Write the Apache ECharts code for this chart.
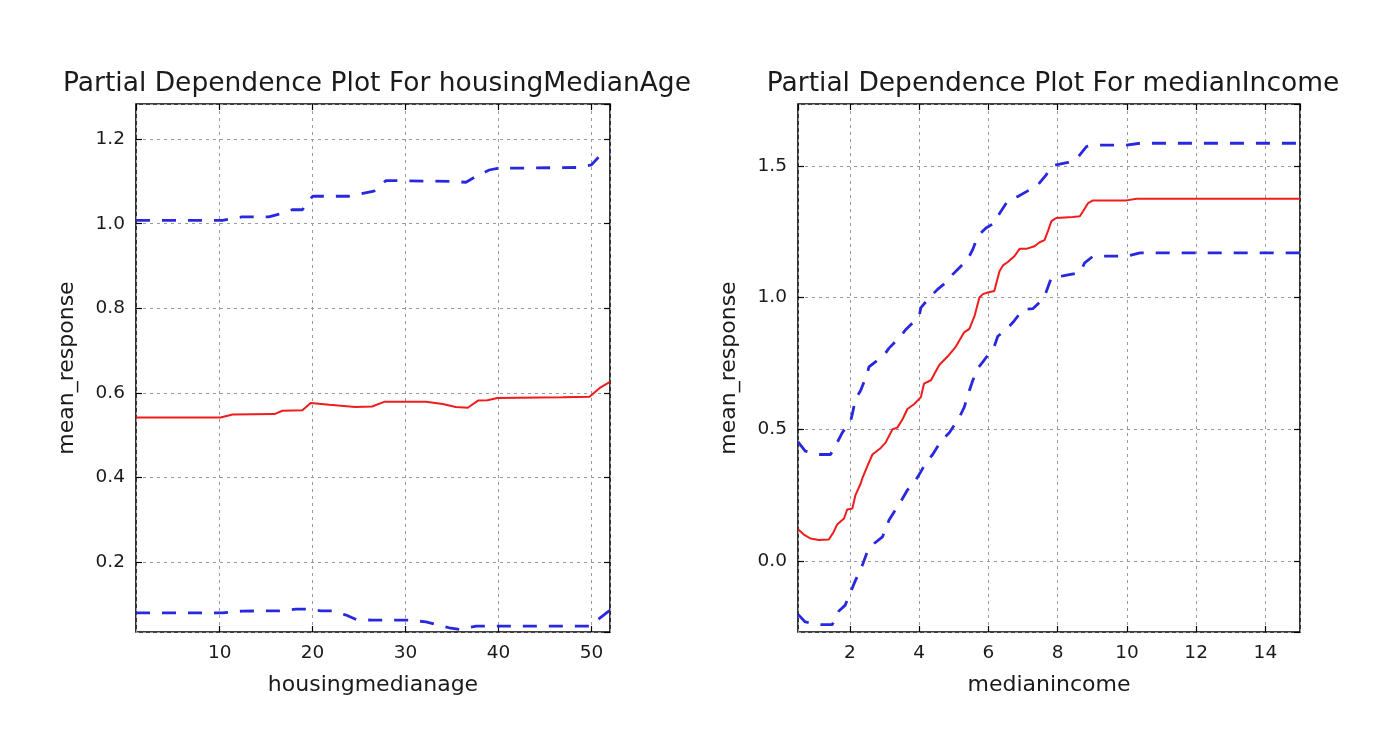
<!DOCTYPE html>
<html>
<head>
<meta charset="utf-8">
<script src="https://cdn.jsdelivr.net/npm/echarts@6/dist/echarts.min.js"></script>
<style>
html,body{margin:0;padding:0;background:#fff;}
#chart{width:1400px;height:746px;}
</style>
</head>
<body>
<div id="chart"></div>
<script>
// ---- Data: housingMedianAge ----
const ageMeanX = [1, 10.1, 11.4, 15.9, 16.75, 18.9, 19.8, 21.8, 24.6, 26.4, 27.7, 32.2, 34, 35.4, 36.7, 37.8, 38.8, 39.9, 46.9, 49.8, 50.9, 52];
const ageMeanY = [0.542, 0.542, 0.549, 0.550, 0.558, 0.559, 0.576, 0.572, 0.567, 0.568, 0.579, 0.579, 0.574, 0.567, 0.565, 0.582, 0.583, 0.588, 0.590, 0.591, 0.612, 0.626];
const ageUpX = [1, 10.3, 12.4, 15.3, 16.2, 17.8, 18.9, 20, 23.9, 26.6, 27.9, 34.9, 36.5, 37.6, 39, 39.9, 48.7, 50, 51, 52];
const ageUpY = [1.008, 1.008, 1.016, 1.016, 1.0215, 1.033, 1.033, 1.065, 1.065, 1.077, 1.102, 1.1, 1.098, 1.112, 1.127, 1.131, 1.133, 1.139, 1.163, 1.168];
const ageLowX = [1, 10.3, 12.4, 16.4, 18.2, 19.4, 20.9, 22.1, 23.6, 24.7, 26.4, 30.4, 32.2, 33.3, 34.7, 35.8, 37.6, 49.8, 50, 51.8, 52];
const ageLowY = [0.080, 0.080, 0.0845, 0.085, 0.089, 0.089, 0.085, 0.085, 0.075, 0.0645, 0.063, 0.063, 0.059, 0.053, 0.045, 0.041, 0.049, 0.049, 0.052, 0.083, 0.086];

// ---- Data: medianIncome ----
const incMeanX = [0.5, 0.67, 0.86, 1.1, 1.39, 1.53, 1.63, 1.83, 1.92, 2.07, 2.16, 2.31, 2.36, 2.5, 2.65, 2.89, 3.03, 3.23, 3.37, 3.52, 3.66, 3.86, 4.05, 4.14, 4.34, 4.58, 4.82, 5.06, 5.3, 5.45, 5.6, 5.74, 5.84, 5.98, 6.17, 6.32, 6.42, 6.56, 6.75, 6.9, 7.09, 7.33, 7.48, 7.62, 7.72, 7.82, 7.96, 8.44, 8.64, 8.73, 8.88, 9.02, 9.99, 10.28, 15];
const incMeanY = [0.12, 0.10, 0.085, 0.079, 0.081, 0.11, 0.138, 0.161, 0.195, 0.199, 0.25, 0.294, 0.314, 0.359, 0.404, 0.429, 0.449, 0.5, 0.506, 0.538, 0.577, 0.596, 0.622, 0.673, 0.686, 0.744, 0.776, 0.814, 0.868, 0.881, 0.93, 1.0, 1.013, 1.019, 1.025, 1.10, 1.122, 1.135, 1.157, 1.185, 1.185, 1.195, 1.21, 1.218, 1.252, 1.29, 1.302, 1.306, 1.309, 1.327, 1.359, 1.369, 1.369, 1.375, 1.375];
const incUpX = [0.5, 0.71, 1.1, 1.44, 1.63, 1.78, 2.02, 2.07, 2.16, 2.31, 2.5, 2.55, 2.99, 3.13, 3.47, 3.61, 4.0, 4.05, 4.34, 4.53, 4.77, 4.97, 5.16, 5.4, 5.55, 5.69, 5.93, 6.17, 6.27, 6.56, 6.85, 7.19, 7.43, 7.67, 7.82, 7.96, 8.3, 8.54, 8.83, 9.02, 9.99, 10.38, 15];
const incUpY = [0.452, 0.417, 0.404, 0.404, 0.449, 0.487, 0.532, 0.558, 0.615, 0.647, 0.712, 0.737, 0.782, 0.808, 0.853, 0.878, 0.929, 0.962, 1.006, 1.031, 1.057, 1.088, 1.113, 1.145, 1.183, 1.233, 1.264, 1.283, 1.309, 1.368, 1.384, 1.409, 1.428, 1.466, 1.5, 1.504, 1.513, 1.525, 1.573, 1.579, 1.579, 1.586, 1.586];
const incLowX = [0.5, 0.71, 1.15, 1.49, 1.68, 1.86, 2.02, 2.16, 2.36, 2.5, 2.7, 2.94, 3.13, 3.28, 3.52, 3.66, 3.9, 4.05, 4.19, 4.39, 4.63, 4.87, 5.16, 5.3, 5.45, 5.55, 5.69, 5.84, 6.17, 6.27, 6.51, 6.71, 7.0, 7.29, 7.57, 7.67, 7.82, 8.15, 8.64, 8.78, 9.02, 9.99, 10.38, 15];
const incLowY = [-0.203, -0.232, -0.242, -0.242, -0.19, -0.169, -0.118, -0.074, -0.016, 0.034, 0.066, 0.091, 0.155, 0.187, 0.237, 0.269, 0.307, 0.339, 0.372, 0.404, 0.455, 0.487, 0.545, 0.583, 0.647, 0.686, 0.731, 0.756, 0.814, 0.853, 0.878, 0.906, 0.955, 0.958, 0.994, 1.022, 1.076, 1.082, 1.094, 1.132, 1.157, 1.157, 1.17, 1.17];

// ---- Axis settings ----
const titles = ['Partial Dependence Plot For housingMedianAge', 'Partial Dependence Plot For medianIncome'];
const xNames = ['housingmedianage', 'medianincome'];
const yName = 'mean_response';
const xRange = [[1, 52], [0.5, 15]];
const xStep = [10, 2];
const yRange = [[0.035, 1.283], [-0.27, 1.735]];
const yStep = [0.2, 0.5];

const FONT = 'DejaVu Sans';
const TXT = '#1a1a1a';
const zip = (xs, ys) => xs.map((x, i) => [x, ys[i]]);

const grids = [
  {left: 136, top: 104, width: 474, height: 528},
  {left: 798, top: 104, width: 502, height: 528}
].map(g => Object.assign(g, {show: true, borderColor: '#000', borderWidth: 1.6, backgroundColor: 'transparent', containLabel: false}));

const xAxes = [], yAxes = [];
for (let i = 0; i < 2; i++) {
  const common = {
    type: 'value',
    gridIndex: i,
    axisLine: {show: false, onZero: false},
    axisTick: {show: true, inside: true, length: 6, lineStyle: {color: '#000', width: 1.2}},
  };
  xAxes.push(Object.assign({}, common, {
    min: xRange[i][0], max: xRange[i][1],
    minInterval: xStep[i], maxInterval: xStep[i], splitNumber: 5,
    position: 'bottom',
    name: xNames[i], nameLocation: 'middle', nameGap: 42,
    nameTextStyle: {fontFamily: FONT, fontSize: 22, color: TXT},
    axisLabel: {show: true, showMinLabel: false, showMaxLabel: false, margin: 12,
      fontFamily: FONT, fontSize: 18.5, color: TXT, formatter: v => String(Math.round(v))},
    splitLine: {show: true, lineStyle: {color: '#9a9a9a', width: 1, type: [3, 4]}}
  }));
  xAxes.push(Object.assign({}, common, {
    min: xRange[i][0], max: xRange[i][1],
    minInterval: xStep[i], maxInterval: xStep[i], splitNumber: 5,
    position: 'top',
    axisLabel: {show: false},
    splitLine: {show: false}
  }));
  yAxes.push(Object.assign({}, common, {
    min: yRange[i][0], max: yRange[i][1],
    minInterval: yStep[i], maxInterval: yStep[i], splitNumber: 5,
    position: 'left',
    name: yName, nameLocation: 'middle', nameGap: 58, nameRotate: 90,
    nameTextStyle: {fontFamily: FONT, fontSize: 22, color: TXT},
    axisLabel: {show: true, showMinLabel: false, showMaxLabel: false, margin: 11,
      fontFamily: FONT, fontSize: 18.5, color: TXT, formatter: v => (Math.round(v * 10) / 10).toFixed(1)},
    splitLine: {show: true, lineStyle: {color: '#9a9a9a', width: 1, type: [3, 4]}}
  }));
  yAxes.push(Object.assign({}, common, {
    min: yRange[i][0], max: yRange[i][1],
    minInterval: yStep[i], maxInterval: yStep[i], splitNumber: 5,
    position: 'right',
    axisLabel: {show: false},
    splitLine: {show: false}
  }));
}

const red = {color: '#f01c1c', width: 2, type: 'solid'};
const blue = {color: '#2828e0', width: 2.8, type: [14, 12]};
function line(data, idx, style) {
  return {type: 'line', data, xAxisIndex: idx * 2, yAxisIndex: idx * 2, showSymbol: false, symbol: 'none',
    lineStyle: style, itemStyle: {color: style.color}, animation: false, silent: true, z: 3};
}

const option = {
  backgroundColor: '#fff',
  animation: false,
  title: [
    {text: titles[0], left: 372, top: 66, textAlign: 'center', textStyle: {fontFamily: FONT, fontSize: 26.5, fontWeight: 'normal', color: TXT}},
    {text: titles[1], left: 1048, top: 66, textAlign: 'center', textStyle: {fontFamily: FONT, fontSize: 26.5, fontWeight: 'normal', color: TXT}}
  ],
  grid: grids,
  xAxis: xAxes,
  yAxis: yAxes,
  series: [
    line(zip(ageUpX, ageUpY), 0, blue),
    line(zip(ageMeanX, ageMeanY), 0, red),
    line(zip(ageLowX, ageLowY), 0, blue),
    line(zip(incUpX, incUpY), 1, blue),
    line(zip(incMeanX, incMeanY), 1, red),
    line(zip(incLowX, incLowY), 1, blue)
  ]
};
const chart = echarts.init(document.getElementById('chart'));
chart.setOption(option);
</script>
</body>
</html>
